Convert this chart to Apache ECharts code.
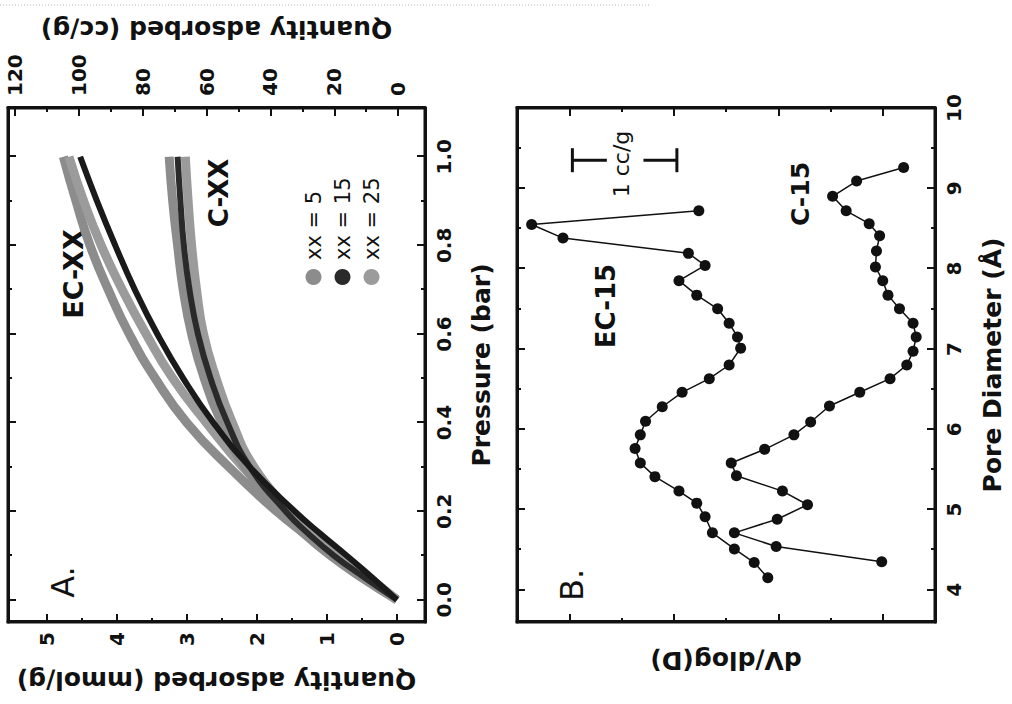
<!DOCTYPE html>
<html>
<head>
<meta charset="utf-8">
<title>Adsorption isotherms and pore size distribution</title>
<script src="https://cdn.jsdelivr.net/npm/echarts@6/dist/echarts.min.js"></script>
<style>
    html, body { margin: 0; padding: 0; background: #fff; overflow: hidden; }
    /* the figure is drawn upright, then turned a quarter turn like the scan */
    #chart {
        position: absolute; left: 0; top: 0;
        width: 704px; height: 1012px;
        transform-origin: 0 0;
        transform: translate(0, 704px) rotate(-90deg);
    }
</style>
</head>
<body>
<div id="chart"></div>
<script>
// panel A: CO2 isotherms (mmol/g) vs pressure (bar)
const pressure = [0, 0.05, 0.1, 0.15, 0.2, 0.3, 0.4, 0.5, 0.6, 0.7, 0.8, 0.9, 1.0]
const ec5  = [0, 0.45, 0.90, 1.32, 1.72, 2.40, 3.00, 3.45, 3.82, 4.12, 4.38, 4.58, 4.76]
const ec15 = [0, 0.35, 0.72, 1.10, 1.46, 2.10, 2.62, 3.05, 3.42, 3.74, 4.02, 4.28, 4.52]
const ec25 = [0, 0.40, 0.80, 1.20, 1.57, 2.20, 2.72, 3.20, 3.58, 3.92, 4.22, 4.47, 4.68]
const c5   = [0, 0.50, 0.95, 1.33, 1.65, 2.17, 2.50, 2.75, 2.93, 3.05, 3.13, 3.20, 3.25]
const c15  = [0, 0.46, 0.90, 1.27, 1.59, 2.10, 2.42, 2.66, 2.84, 2.96, 3.04, 3.09, 3.13]
const c25  = [0, 0.43, 0.86, 1.22, 1.53, 2.04, 2.35, 2.58, 2.76, 2.86, 2.93, 2.98, 3.02]

// panel B: dV/dlog(D) vs pore diameter (curves offset, arbitrary units)
const poreEC15 = [4.15, 4.34, 4.51, 4.71, 4.91, 5.08, 5.23, 5.41, 5.58, 5.76, 5.93, 6.10, 6.28, 6.46,
    6.63, 6.80, 7.01, 7.15, 7.32, 7.50, 7.67, 7.85, 8.04, 8.19, 8.38, 8.55, 8.72]
const dvEC15 = [1.10, 1.23, 1.42, 1.63, 1.70, 1.78, 1.95, 2.18, 2.32, 2.37, 2.32, 2.27, 2.11, 1.92,
    1.66, 1.47, 1.36, 1.39, 1.47, 1.58, 1.78, 1.95, 1.70, 1.86, 3.06, 3.36, 1.76]
const poreC15 = [4.35, 4.54, 4.71, 4.88, 5.06, 5.23, 5.42, 5.58, 5.75, 5.93, 6.09, 6.29, 6.46, 6.63,
    6.80, 6.97, 7.15, 7.32, 7.50, 7.67, 7.85, 8.02, 8.22, 8.41, 8.56, 8.72, 8.90, 9.09, 9.26]
const dvC15 = [0.01, 1.02, 1.42, 1.01, 0.72, 0.96, 1.40, 1.45, 1.13, 0.85, 0.69, 0.51, 0.22, -0.07,
    -0.23, -0.29, -0.32, -0.29, -0.16, -0.05, 0.00, 0.07, 0.06, 0.03, 0.13, 0.35, 0.48, 0.25, -0.20]

// "1 cc/g" scale bar
const barPore = 9.35
const barUpper = [2.97, 2.64]
const barLower = [2.29, 1.97]

// tick values
const pressureTicks = [0, 0.2, 0.4, 0.6, 0.8, 1.0]
const pressureMinor = [0.1, 0.3, 0.5, 0.7, 0.9]
const mmolTicks = [0, 1, 2, 3, 4, 5]
const mmolMinor = [0.5, 1.5, 2.5, 3.5, 4.5]
const ccTicks = [0, 20, 40, 60, 80, 100, 120]
const ccMinor = [10, 30, 50, 70, 90, 110]
const poreTicks = [4, 5, 6, 7, 8, 9, 10]
const poreMinor = [4.5, 5.5, 6.5, 7.5, 8.5, 9.5]
const dvTicks = [0, 1, 2, 3]
const dvMinor = [0.5, 1.5, 2.5]

const font = '"DejaVu Sans", sans-serif'
const ink = '#111'

function pairs(xs, ys) {
    return xs.map((x, i) => [x, ys[i]])
}

// one side of a framed box: inside ticks at given values (the frame itself is the grid border)
function side(grid, position, min, max, ticks, len, extra) {
    return Object.assign({
        type: 'value',
        gridIndex: grid,
        position: position,
        min: min,
        max: max,
        axisLine: { show: len > 5, onZero: false, lineStyle: { color: ink, width: 3 } },
        axisTick: { show: true, inside: true, length: len, customValues: ticks,
            lineStyle: { color: ink, width: 2 } },
        axisLabel: { show: false },
        splitLine: { show: false }
    }, extra || {})
}

function labels(values, margin, formatter) {
    return { show: true, customValues: values, margin: margin, formatter: formatter,
        fontFamily: font, fontWeight: 'bold', fontSize: 20, color: ink }
}

function axisName(text, gap, rotate) {
    return { name: text, nameLocation: 'middle', nameGap: gap, nameRotate: rotate,
        nameTextStyle: { fontFamily: font, fontWeight: 'bold', fontSize: 25, color: ink } }
}

function isotherm(name, values, color, width) {
    return {
        type: 'line', name: name, xAxisIndex: 0, yAxisIndex: 0,
        data: pairs(pressure, values), smooth: true, showSymbol: false,
        lineStyle: { color: color, width: width }, itemStyle: { color: color }
    }
}

function poreSeries(name, xs, ys) {
    return {
        type: 'line', name: name, xAxisIndex: 4, yAxisIndex: 4,
        data: pairs(xs, ys), symbol: 'circle', symbolSize: 11,
        lineStyle: { color: ink, width: 1.5 }, itemStyle: { color: ink }
    }
}

function barPiece(capFirst, values) {
    let cap = { symbol: 'rect', symbolSize: [24, 3] }
    let a = { value: [barPore, values[0]], symbol: 'none' }
    let b = { value: [barPore, values[1]], symbol: 'none' }
    Object.assign(capFirst ? a : b, cap)
    return {
        type: 'line', xAxisIndex: 4, yAxisIndex: 4, data: [a, b],
        lineStyle: { color: ink, width: 3 }, itemStyle: { color: ink }
    }
}

function note(text, x, y, size, weight) {
    return {
        type: 'text', x: x, y: y,
        style: { text: text, font: (weight || 'bold') + ' ' + size + 'px ' + font,
            fill: ink, textAlign: 'center', textVerticalAlign: 'middle' }
    }
}

let grey5 = '#8c8c8c'
let grey25 = '#9b9b9b'
let frame = { show: true, borderColor: ink, borderWidth: 3, backgroundColor: 'transparent' }

let option = {
    animation: false,
    backgroundColor: '#fff',
    textStyle: { fontFamily: font },
    grid: [
        Object.assign({ left: 82, top: 8, width: 514, height: 417 }, frame),
        Object.assign({ left: 82, top: 517, width: 514, height: 418 }, frame)
    ],
    legend: {
        data: ['xx = 5', 'xx = 15', 'xx = 25'],
        orient: 'vertical', left: 414, top: 298,
        icon: 'circle', itemWidth: 16, itemHeight: 16, itemGap: 8,
        textStyle: { fontFamily: font, fontSize: 21, color: ink, padding: [0, 0, 0, 4] }
    },
    xAxis: [
        side(0, 'bottom', -0.05, 1.11, pressureTicks, 8, Object.assign({
            axisLabel: labels(pressureTicks, 9, v => v.toFixed(1))
        }, axisName('Pressure (bar)', 44))),
        side(0, 'bottom', -0.05, 1.11, pressureMinor, 4),
        side(0, 'top', -0.05, 1.11, pressureTicks, 8),
        side(0, 'top', -0.05, 1.11, pressureMinor, 4),
        side(1, 'bottom', 3.6, 10, poreTicks, 8, Object.assign({
            axisLabel: labels(poreTicks, 9)
        }, axisName('Pore Diameter (Å)', 45))),
        side(1, 'bottom', 3.6, 10, poreMinor, 4),
        side(1, 'top', 3.6, 10, poreTicks, 8),
        side(1, 'top', 3.6, 10, poreMinor, 4)
    ],
    yAxis: [
        side(0, 'left', -0.4, 5.55, mmolTicks, 8, Object.assign({
            axisLabel: labels(mmolTicks, 10)
        }, axisName('Quantity adsorbed (mmol/g)', 46, 90))),
        side(0, 'left', -0.4, 5.55, mmolMinor, 4),
        side(0, 'right', -8.4, 122.2, ccTicks, 8, Object.assign({
            axisLabel: labels(ccTicks, 12)
        }, axisName('Quantity adsorbed (cc/g)', 66, 90))),
        side(0, 'right', -8.4, 122.2, ccMinor, 4),
        side(1, 'left', -0.5, 3.5, dvTicks, 8, axisName('dV/dlog(D)', 26, 90)),
        side(1, 'left', -0.5, 3.5, dvMinor, 4),
        side(1, 'right', -0.5, 3.5, dvTicks, 8),
        side(1, 'right', -0.5, 3.5, dvMinor, 4)
    ],
    series: [
        isotherm('xx = 5', ec5, grey5, 9),
        isotherm('xx = 25', ec25, grey25, 9),
        isotherm('xx = 5', c5, grey5, 9),
        isotherm('xx = 25', c25, grey25, 9),
        isotherm('xx = 15', c15, '#2a2a2a', 6),
        isotherm('xx = 15', ec15, '#1a1a1a', 6),
        poreSeries('EC-15', poreEC15, dvEC15),
        poreSeries('C-15', poreC15, dvC15),
        barPiece(true, barUpper),
        barPiece(false, barLower)
    ],
    graphic: [
        note('A.', 122, 63, 32, 'normal'),
        note('EC-XX', 430, 73, 27),
        note('C-XX', 511, 219, 26),
        note('B.', 119, 572, 32, 'normal'),
        note('EC-15', 398, 606, 26),
        note('C-15', 510, 800, 25),
        note('1 cc/g', 540, 621, 22, 'normal'),
        // faint dotted edge of the scanned page
        { type: 'line', shape: { x1: 699, y1: 0, x2: 699, y2: 650 },
          style: { stroke: '#bbb', lineWidth: 1, lineDash: [1, 2] } }
    ]
}

let chart = echarts.init(document.getElementById('chart'), null, { renderer: 'svg' })
chart.setOption(option)
</script>
</body>
</html>
